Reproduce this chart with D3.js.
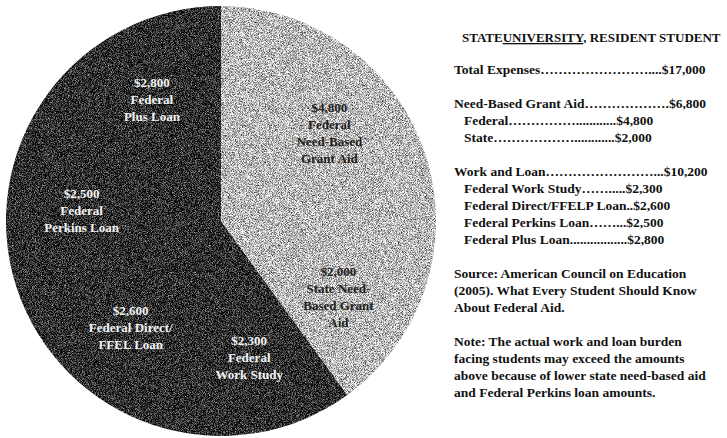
<!DOCTYPE html>
<html>
<head>
<meta charset="utf-8">
<script src="https://cdn.jsdelivr.net/npm/d3@7"></script>
<style>
  html, body { margin: 0; padding: 0; background: #fff; }
  svg { display: block; }
  text { font-family: "Liberation Serif", "Times New Roman", serif; font-weight: bold; }
</style>
</head>
<body>
<svg id="chart" width="727" height="438"></svg>
<script>
// ---- data ----
const categories = ["Federal Need-Based Grant Aid", "State Need-Based Grant Aid", "Federal Work Study",
                    "Federal Direct/FFEL Loan", "Federal Perkins Loan", "Federal Plus Loan"];
const values = [4800, 2000, 2300, 2600, 2500, 2800];
const groups = ["grant", "grant", "loan", "loan", "loan", "loan"];
const sliceLabels = [
  ["$4,800", "Federal", "Need-Based", "Grant Aid"],
  ["$2,000", "State Need-", "Based Grant", "Aid"],
  ["$2,300", "Federal", "Work Study"],
  ["$2,600", "Federal Direct/", "FFEL Loan"],
  ["$2,500", "Federal", "Perkins Loan"],
  ["$2,800", "Federal", "Plus Loan"]
];
const panelTitle = ["STATE", "UNIVERSITY", ", RESIDENT STUDENT"];
// leader text: label, ellipsis count, period count, amount
const panelLines = [
  {label: "Total Expenses", e: 8, p: 4, amt: "$17,000", lvl: 0, gap: 1},
  {label: "Need-Based Grant Aid", e: 6, p: 1, amt: "$6,800", lvl: 0, gap: 1},
  {label: "Federal", e: 5, p: 12, amt: "$4,800", lvl: 1, gap: 0},
  {label: "State", e: 6, p: 12, amt: "$2,000", lvl: 1, gap: 0},
  {label: "Work and Loan", e: 8, p: 3, amt: "$10,200", lvl: 0, gap: 1},
  {label: "Federal Work Study", e: 2, p: 5, amt: "$2,300", lvl: 1, gap: 0},
  {label: "Federal Direct/FFELP Loan", e: 0, p: 2, amt: "$2,600", lvl: 1, gap: 0},
  {label: "Federal Perkins Loan", e: 2, p: 3, amt: "$2,500", lvl: 1, gap: 0},
  {label: "Federal Plus Loan", e: 0, p: 17, amt: "$2,800", lvl: 1, gap: 0},
  {label: "Source: American Council on Education", lvl: 0, gap: 1},
  {label: "(2005).  What Every Student Should Know", lvl: 0, gap: 0},
  {label: "About Federal Aid.", lvl: 0, gap: 0},
  {label: "Note: The actual work and loan burden", lvl: 0, gap: 1},
  {label: "facing students may exceed the amounts", lvl: 0, gap: 0},
  {label: "above because of lower state need-based aid", lvl: 0, gap: 0},
  {label: "and Federal Perkins loan amounts.", lvl: 0, gap: 0}
];

// ---- layout ----
const svg = d3.select("#chart");
const cx = 221, cy = 221, R = 215;

const defs = svg.append("defs");
function grain(id, k, b, seed) {
  const f = defs.append("filter").attr("id", id)
    .attr("x", 0).attr("y", 0).attr("width", 1).attr("height", 1)
    .attr("color-interpolation-filters", "sRGB");
  f.append("feTurbulence").attr("type", "fractalNoise").attr("baseFrequency", 1.3)
    .attr("numOctaves", 1).attr("seed", seed).attr("result", "n");
  f.append("feColorMatrix").attr("in", "n").attr("type", "matrix")
    .attr("values", `${k} 0 0 0 ${b}  ${k} 0 0 0 ${b}  ${k} 0 0 0 ${b}  0 0 0 0 1`).attr("result", "g");
  f.append("feComposite").attr("in", "g").attr("in2", "SourceAlpha").attr("operator", "in");
}
grain("grainDark", 1.6, -0.62, 4);
grain("grainLight", 1.9, -0.22, 9);

const pie = d3.pie().sort(null).value(d => d);
const arcs = pie(values);
const arc = d3.arc().innerRadius(0).outerRadius(R);
const labelArc = d3.arc().innerRadius(R * 0.65).outerRadius(R * 0.65);

const g = svg.append("g").attr("transform", `translate(${cx},${cy})`);

// draw each colour group as one merged shape so no seams show
["loan", "grant"].forEach(grp => {
  const idx = arcs.map((a, i) => i).filter(i => groups[i] === grp);
  const a0 = d3.min(idx, i => arcs[i].startAngle);
  const a1 = d3.max(idx, i => arcs[i].endAngle);
  g.append("path")
    .attr("d", arc({startAngle: a0, endAngle: a1}))
    .attr("fill", grp === "grant" ? "#bbb" : "#222")
    .attr("filter", grp === "grant" ? "url(#grainLight)" : "url(#grainDark)");
});

const lh = 17;
arcs.forEach((a, i) => {
  const [x, y] = labelArc.centroid(a);
  const lines = sliceLabels[i];
  const t = g.append("text")
    .attr("text-anchor", "middle")
    .attr("font-size", 13)
    .attr("fill", groups[i] === "grant" ? "#222" : "#f2f2f2");
  lines.forEach((ln, j) => {
    t.append("tspan").attr("x", x)
      .attr("y", y + (j - (lines.length - 1) / 2) * lh + 4.5)
      .text(ln);
  });
});

// ---- right panel ----
const px = 454;
const title = svg.append("text").attr("x", 462).attr("y", 42)
  .attr("font-size", 13).attr("fill", "#111");
title.append("tspan").text(panelTitle[0]);
title.append("tspan").attr("text-decoration", "underline").text(panelTitle[1]);
title.append("tspan").text(panelTitle[2]);

let y = 74 - 34;
panelLines.forEach(d => {
  y += d.gap ? 34 : 17;
  const txt = d.amt ? d.label + "\u2026".repeat(d.e) + ".".repeat(d.p) + d.amt : d.label;
  svg.append("text").attr("x", px + d.lvl * 10).attr("y", y)
    .attr("font-size", 13.5).attr("fill", "#111").text(txt);
});
</script>
</body>
</html>
